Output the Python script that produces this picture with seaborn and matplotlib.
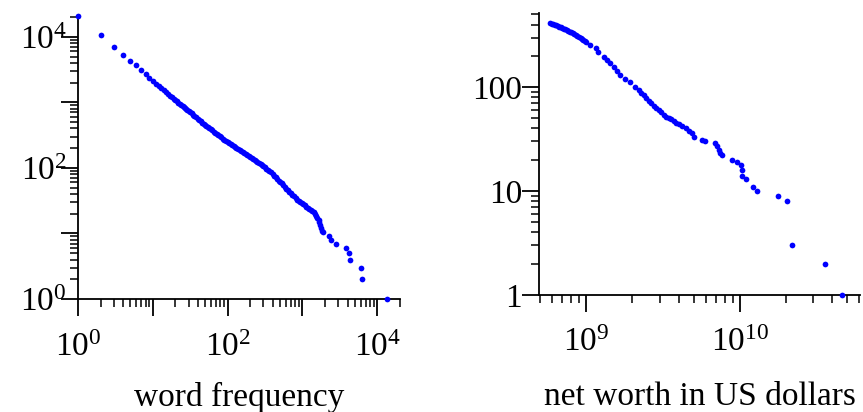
import matplotlib
matplotlib.use("Agg")
import matplotlib.pyplot as plt
import seaborn as sns
from matplotlib.ticker import LogLocator, NullFormatter

# left panel: word frequency vs number of words with at least that frequency
freq_x = [1, 2, 3, 4, 5, 6, 7, 8, 9, 10, 11, 12, 13, 14, 15, 16,
          17, 18, 19, 20, 21, 22, 23, 24, 25, 26, 27, 28, 29, 30,
          31.5, 33, 34.5, 36, 38, 40, 42, 44, 46, 48, 50, 52, 54.5, 57, 59.5, 62, 65, 68, 71.5, 75, 78.5, 82, 86, 90, 95,
          100, 105, 110, 115, 120, 125, 130, 137, 145, 152, 160, 167, 175, 182, 190, 200,
          210, 220, 230, 240, 250, 262, 275, 287, 300, 315, 330, 345, 360, 380,
          400, 420, 440, 460, 480, 505, 530, 555, 580, 610, 640, 670, 700, 735, 770, 810, 850, 890, 930, 975,
          1020, 1070, 1120, 1175, 1230, 1290, 1350, 1415, 1480, 1530,
          1585, 1640, 1685, 1738, 1791, 1848, 1877,
          2290, 2410, 2810, 3860, 4230, 4365, 5990, 6250, 13300]
freq_y = [20900, 10500, 7030, 5310, 4300, 3650, 3130, 2720, 2340, 2115, 1936, 1778, 1648, 1531, 1432, 1343,
          1268, 1200, 1138, 1081, 1032, 986, 946, 910, 876, 845, 817, 791, 765, 741,
          708, 677, 648, 622, 590, 560, 536, 513, 492, 473, 456, 440, 421, 404, 389, 375, 359, 344, 329, 315, 302, 291, 280, 270, 259,
          248, 239, 231, 224, 217, 210, 204, 196, 188, 181, 175, 169, 164, 158, 153, 147,
          142, 137, 132, 128, 124, 119, 114, 110, 106, 101.5, 97.6, 94.0, 90.6, 85.5,
          80.4, 76.3, 72.4, 67.6, 63.1, 60.5, 58.0, 54.8, 51.6, 48.4, 45.5, 43.0, 40.9, 38.8, 36.7, 34.7, 32.8, 31.3, 29.9, 28.8,
          27.7, 26.7, 25.7, 24.7, 23.8, 22.8, 21.8, 20.9, 20.0, 18.6,
          17.2, 16.0, 15.0, 13.5, 12.1, 11.0, 10.5,
          9, 8, 7, 6, 5, 4, 3, 2, 1]

# right panel: net worth vs rank
worth_x = [5.82e8, 5.97e8, 6.12e8, 6.26e8, 6.40e8, 6.55e8, 6.70e8, 6.85e8, 7.00e8, 7.16e8, 7.33e8, 7.50e8, 7.66e8,
           7.84e8, 8.02e8, 8.20e8, 8.39e8, 8.58e8, 8.77e8, 8.97e8, 9.18e8, 9.39e8, 9.60e8, 9.80e8, 1.00e9,
           1.06e9, 1.15e9, 1.20e9, 1.30e9, 1.36e9, 1.43e9, 1.51e9, 1.58e9, 1.67e9, 1.80e9, 1.94e9, 2.09e9,
           2.19e9, 2.28e9, 2.36e9, 2.45e9, 2.55e9, 2.65e9, 2.75e9, 2.85e9, 2.96e9, 3.08e9, 3.19e9, 3.32e9,
           3.44e9, 3.57e9, 3.71e9, 3.85e9, 4.00e9, 4.20e9, 4.43e9,
           4.65e9, 4.89e9, 5.05e9, 5.68e9, 5.97e9, 6.94e9, 7.11e9, 7.29e9, 7.48e9, 7.67e9,
           8.83e9, 9.60e9, 1.02e10, 1.03e10, 1.035e10, 1.09e10, 1.22e10, 1.30e10, 1.78e10, 2.04e10,
           2.19e10, 3.60e10, 4.61e10]
worth_y = [415, 409, 403, 397, 392, 387, 382, 375, 369, 364, 359, 354, 349,
           342, 336, 329, 323, 317, 311, 305, 299, 291, 283, 277, 271,
           253, 236, 218, 196, 182, 169, 156, 144, 130, 121, 112, 101,
           94, 88, 84, 78, 73, 70, 66, 63, 60, 57, 54, 52,
           50, 49, 47, 45, 44, 42, 40,
           38, 36, 33, 31, 30, 29, 27, 25, 23, 22,
           20, 19, 18, 16, 14, 13, 11, 10, 9, 8,
           3, 2, 1]

left_xticks = [1, 10, 100, 1000, 10000]
left_labels = ["$10^{0}$", "", "$10^{2}$", "", "$10^{4}$"]
right_xticks = [1e9, 1e10]
right_xlabels = ["$10^{9}$", "$10^{10}$"]
right_yticks = [1, 10, 100]
right_ylabels = ["1", "10", "100"]

sns.set_style("ticks")
plt.rcParams["font.family"] = ["Liberation Serif", "DejaVu Serif"]
plt.rcParams["mathtext.fontset"] = "custom"
plt.rcParams["mathtext.rm"] = "Liberation Serif"
plt.rcParams["mathtext.it"] = "Liberation Serif:italic"
plt.rcParams["axes.linewidth"] = 1.3

fig = plt.figure(figsize=(8.63, 4.12), dpi=100)
ax1 = fig.add_axes([0.0904, 0.2743, 0.3731, 0.6893])
ax2 = fig.add_axes([0.6249, 0.284, 0.3716, 0.6852])

dot = dict(color="#0000ff", s=17, marker="o", linewidth=0, clip_on=False, legend=False, zorder=3)
sns.scatterplot(x=freq_x, y=freq_y, ax=ax1, **dot)
sns.scatterplot(x=worth_x, y=worth_y, ax=ax2, **dot)

for ax in (ax1, ax2):
    ax.set_xscale("log")
    ax.set_yscale("log")
    sns.despine(ax=ax)
    for sp in ax.spines.values():
        sp.set_color("black")

ax1.set_xlim(1, 2.01e4)
ax1.set_ylim(1, 2.15e4)
ax1.set_xticks(left_xticks, left_labels)
ax1.set_yticks(left_xticks, left_labels)

ax2.set_xlim(4.95e8, 6.05e10)
ax2.set_ylim(1, 520)
ax2.set_xticks(right_xticks, right_xlabels)
ax2.set_yticks(right_yticks, right_ylabels)

for ax in (ax1, ax2):
    for axis in (ax.xaxis, ax.yaxis):
        axis.set_minor_locator(LogLocator(base=10, subs=range(2, 10), numticks=60))
        axis.set_minor_formatter(NullFormatter())
    ax.tick_params(which="major", length=12, width=1.3, direction="out",
                   labelsize=24, color="black", labelcolor="black")
    ax.tick_params(which="minor", length=5.5, width=1.1, direction="out", color="black")

ax1.tick_params(axis="y", which="major", pad=-4)
ax2.tick_params(axis="y", which="major", pad=0.5)
ax1.tick_params(axis="x", which="major", pad=12)
ax2.tick_params(axis="x", which="major", pad=11)

ax1.set_xlabel("word frequency", fontsize=24, color="black")
ax1.xaxis.set_label_coords(0.5, -0.292)
ax2.set_xlabel("net worth in US dollars", fontsize=24, color="black")
ax2.xaxis.set_label_coords(0.5, -0.306)

fig.savefig("out.png", dpi=100)
